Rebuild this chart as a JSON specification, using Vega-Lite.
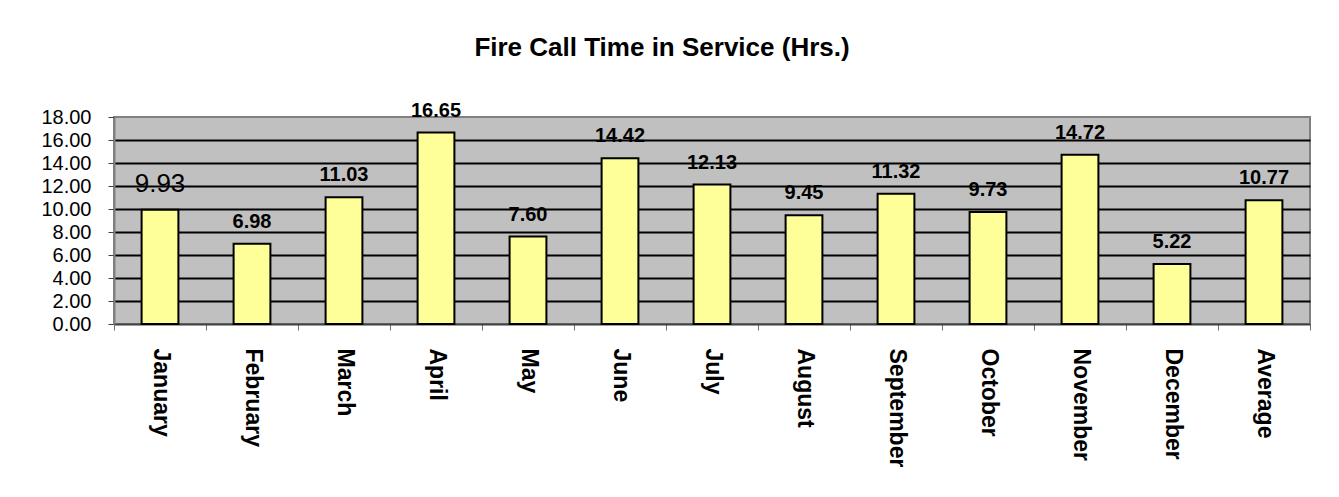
{
  "$schema": "https://vega.github.io/schema/vega-lite/v6.json",
  "width": 1196,
  "height": 207,
  "autosize": {"type": "none"},
  "padding": {"left": 114, "top": 117, "right": 29, "bottom": 173},
  "background": "white",
  "title": {
    "text": "Fire Call Time in Service (Hrs.)",
    "font": "Liberation Sans",
    "fontSize": 26,
    "fontWeight": "bold",
    "color": "black",
    "anchor": "middle",
    "frame": "group",
    "dx": -50,
    "offset": 40
  },
  "data": {
    "values": [
      {"month": "January", "hours": 9.93},
      {"month": "February", "hours": 6.98},
      {"month": "March", "hours": 11.03},
      {"month": "April", "hours": 16.65},
      {"month": "May", "hours": 7.60},
      {"month": "June", "hours": 14.42},
      {"month": "July", "hours": 12.13},
      {"month": "August", "hours": 9.45},
      {"month": "September", "hours": 11.32},
      {"month": "October", "hours": 9.73},
      {"month": "November", "hours": 14.72},
      {"month": "December", "hours": 5.22},
      {"month": "Average", "hours": 10.77}
    ]
  },
  "encoding": {
    "x": {
      "field": "month",
      "type": "nominal",
      "sort": null,
      "scale": {"paddingInner": 0, "paddingOuter": 0},
      "axis": {
        "title": null,
        "labelAngle": 90,
        "labelFont": "Liberation Sans",
        "labelFontSize": 23,
        "labelFontWeight": "bold",
        "labelColor": "black",
        "labelPadding": 18,
        "tickBand": "extent",
        "tickSize": 6,
        "tickWidth": 1,
        "tickColor": "#707070",
        "domainColor": "#404040",
        "domainWidth": 2,
        "grid": false
      }
    },
    "y": {
      "field": "hours",
      "type": "quantitative",
      "scale": {"domain": [0, 18], "nice": false, "zero": true},
      "axis": {
        "title": null,
        "values": [0, 2, 4, 6, 8, 10, 12, 14, 16, 18],
        "format": ".2f",
        "labelFont": "Liberation Sans",
        "labelFontSize": 20,
        "labelColor": "black",
        "labelPadding": 17,
        "tickSize": 6,
        "tickWidth": 1,
        "tickColor": "#404040",
        "domainColor": "#808080",
        "domainWidth": 2,
        "grid": true,
        "gridColor": "black",
        "gridWidth": 2,
        "gridOpacity": {"condition": {"test": "datum.value === 0 || datum.value === 18", "value": 0}, "value": 1}
      }
    }
  },
  "layer": [
    {
      "mark": {"type": "bar", "width": {"band": 0.4}, "fill": "#FFFF99", "stroke": "black", "strokeWidth": 2}
    },
    {
      "transform": [{"filter": "datum.month !== 'January'"}],
      "mark": {"type": "text", "font": "Liberation Sans", "fontSize": 20, "fontWeight": "bold", "color": "black", "baseline": "alphabetic", "dy": -16},
      "encoding": {"text": {"field": "hours", "type": "quantitative", "format": ".2f"}}
    },
    {
      "transform": [{"filter": "datum.month === 'January'"}],
      "mark": {"type": "text", "font": "Liberation Sans", "fontSize": 26, "fontWeight": "normal", "color": "black", "baseline": "alphabetic", "dy": -18},
      "encoding": {"text": {"field": "hours", "type": "quantitative", "format": ".2f"}}
    }
  ],
  "config": {
    "view": {"fill": "#C0C0C0", "stroke": "#808080", "strokeWidth": 2}
  }
}
